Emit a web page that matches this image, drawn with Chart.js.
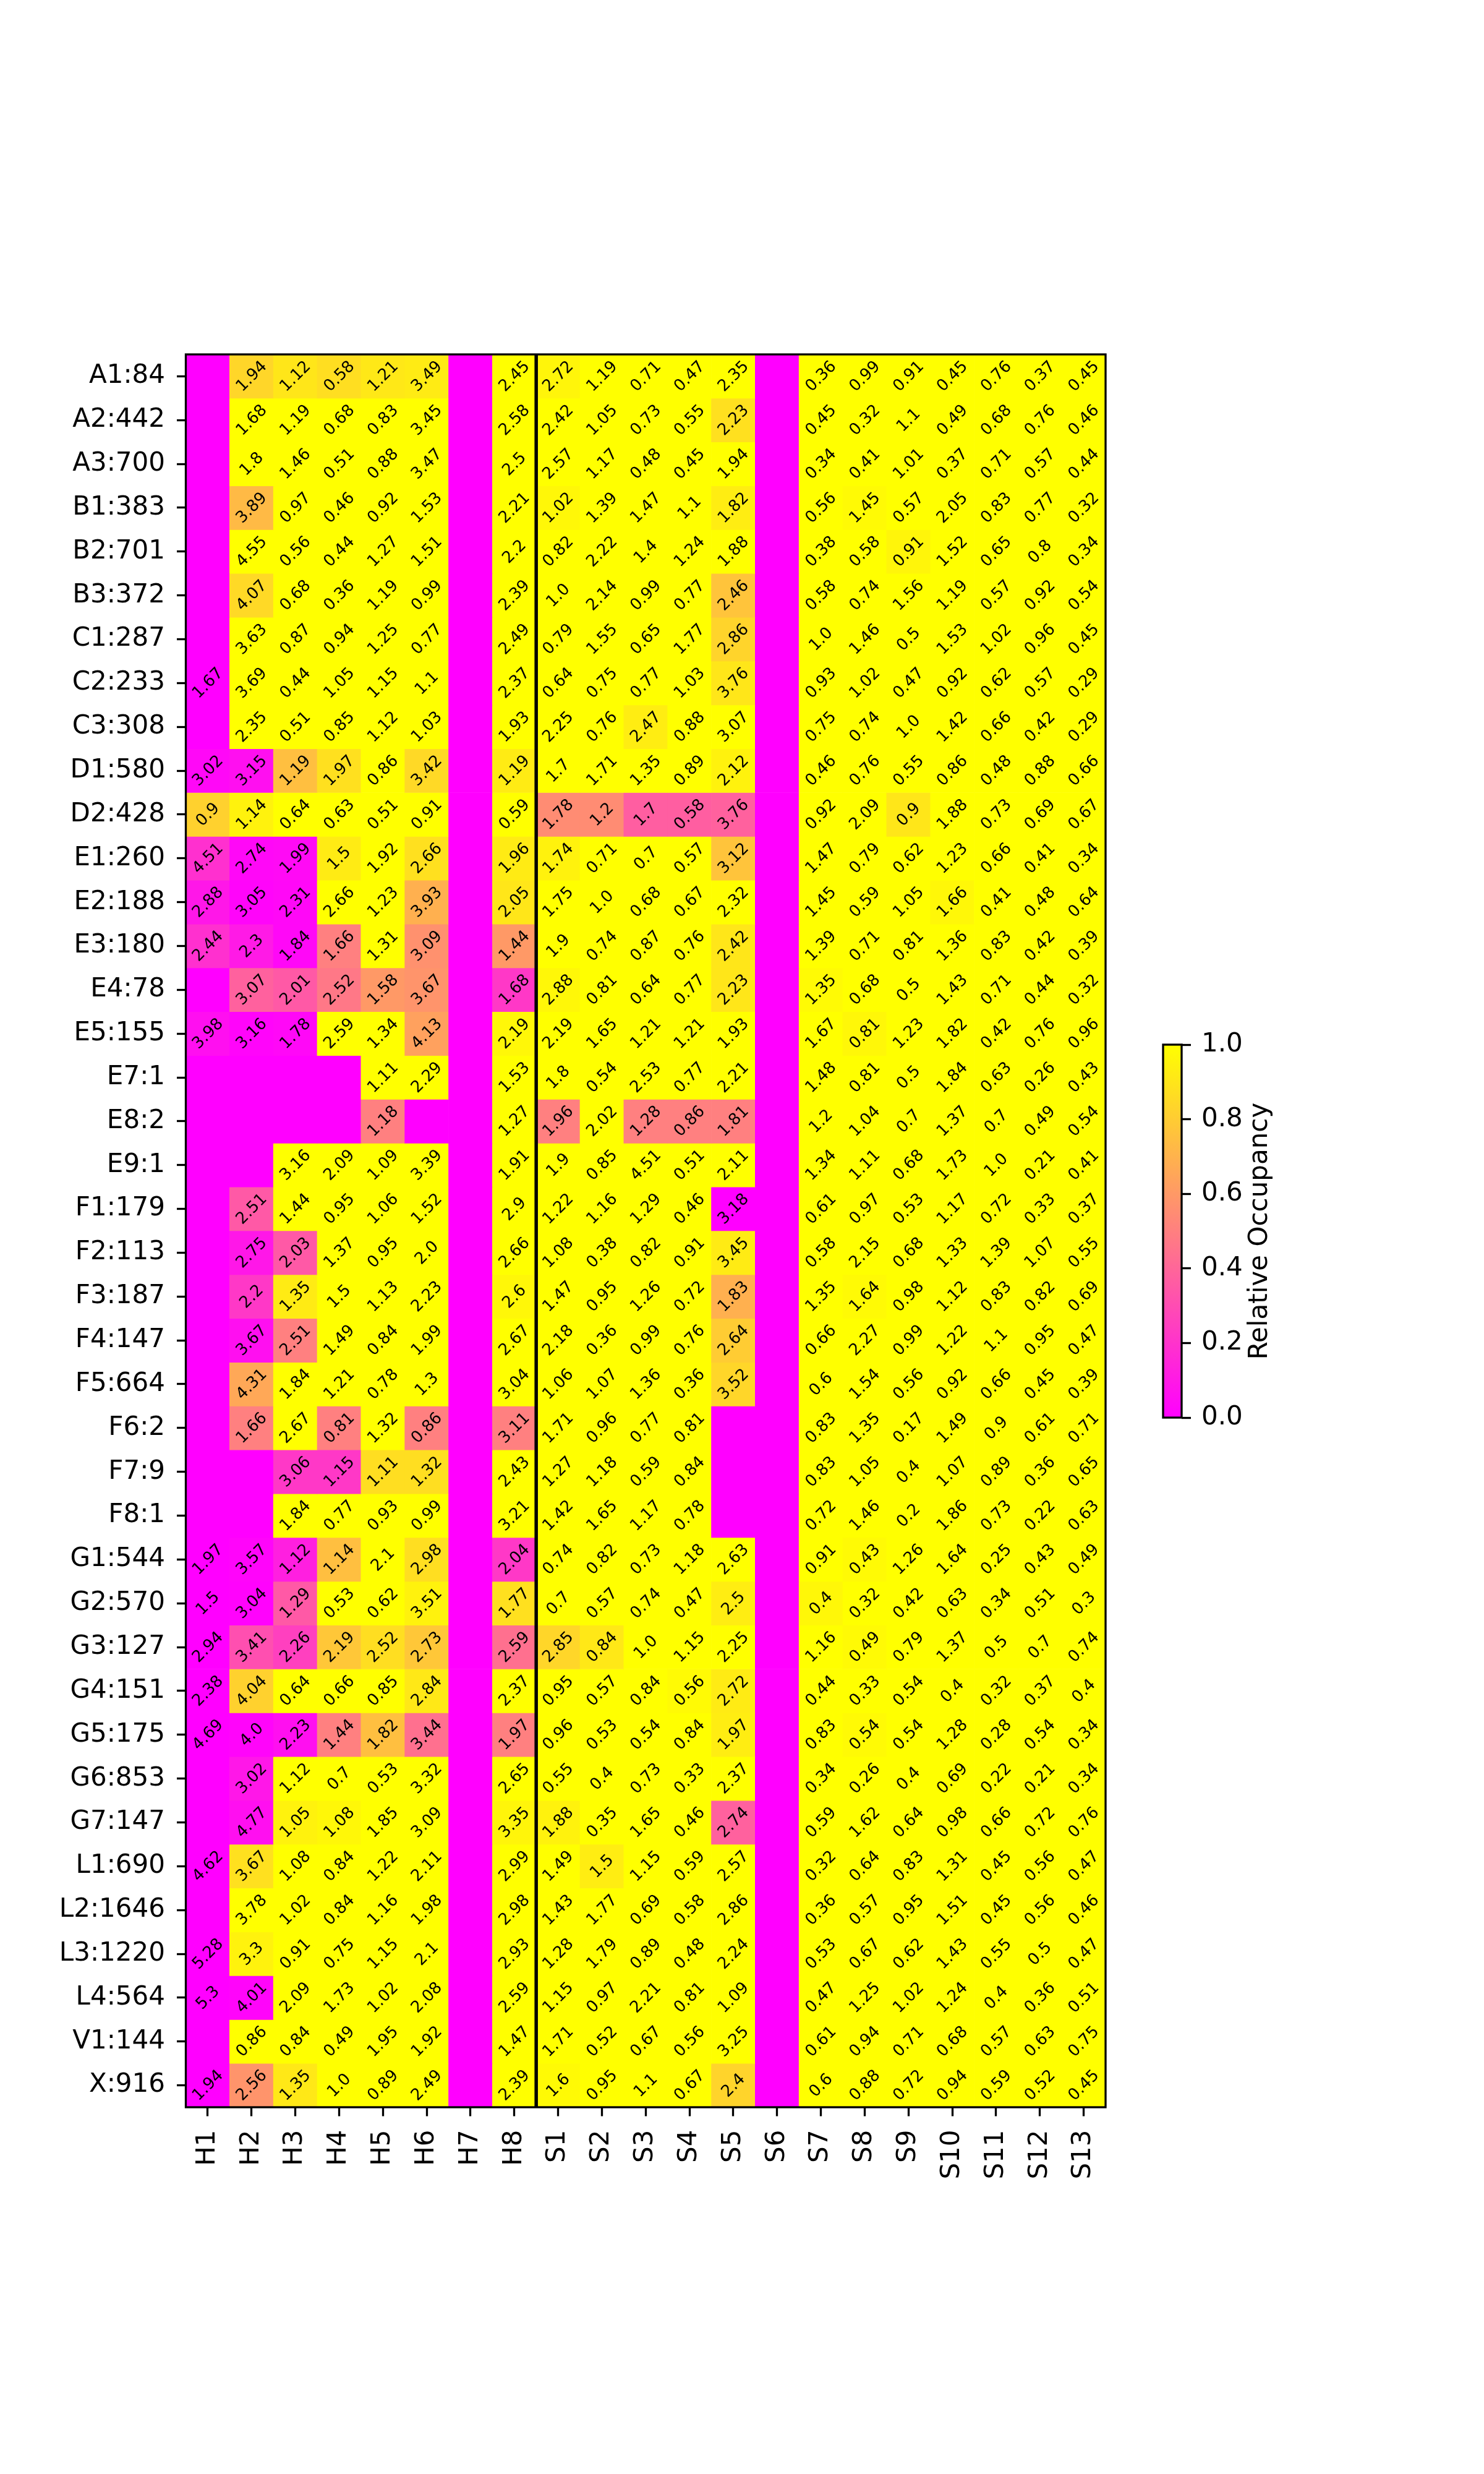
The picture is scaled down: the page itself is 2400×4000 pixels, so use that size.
<!DOCTYPE html>
<html><head><meta charset="utf-8">
<script src="https://cdn.jsdelivr.net/npm/chart.js@4/dist/chart.umd.min.js"></script>
<style>
html,body{margin:0;padding:0;background:#fff;}
#wrap{position:relative;width:2400px;height:4000px;background:#fff;}
#main{position:absolute;left:0;top:0;}
#cbar{position:absolute;left:1860px;top:1600px;}
</style></head><body>
<div id="wrap">
<canvas id="main" width="2400" height="4000"></canvas>
<canvas id="cbar" width="400" height="800"></canvas>
</div>
<script>
// ---- categories ----
const colLabels = ['H1','H2','H3','H4','H5','H6','H7','H8','S1','S2','S3','S4','S5','S6','S7','S8','S9','S10','S11','S12','S13'];
const rowLabels = ['A1:84','A2:442','A3:700','B1:383','B2:701','B3:372','C1:287','C2:233','C3:308','D1:580','D2:428','E1:260','E2:188','E3:180','E4:78','E5:155','E7:1','E8:2','E9:1','F1:179','F2:113','F3:187','F4:147','F5:664','F6:2','F7:9','F8:1','G1:544','G2:570','G3:127','G4:151','G5:175','G6:853','G7:147','L1:690','L2:1646','L3:1220','L4:564','V1:144','X:916'];
const separatorAfter = 'H8';
const colorbarTicks = [0.0, 0.2, 0.4, 0.6, 0.8, 1.0];
const colorbarLabel = 'Relative Occupancy';

// ---- cell annotation values per row (null = no label) ----
const val_A1 = [null,1.94,1.12,0.58,1.21,3.49,null,2.45,2.72,1.19,0.71,0.47,2.35,null,0.36,0.99,0.91,0.45,0.76,0.37,0.45];
const val_A2 = [null,1.68,1.19,0.68,0.83,3.45,null,2.58,2.42,1.05,0.73,0.55,2.23,null,0.45,0.32,1.1,0.49,0.68,0.76,0.46];
const val_A3 = [null,1.8,1.46,0.51,0.88,3.47,null,2.5,2.57,1.17,0.48,0.45,1.94,null,0.34,0.41,1.01,0.37,0.71,0.57,0.44];
const val_B1 = [null,3.89,0.97,0.46,0.92,1.53,null,2.21,1.02,1.39,1.47,1.1,1.82,null,0.56,1.45,0.57,2.05,0.83,0.77,0.32];
const val_B2 = [null,4.55,0.56,0.44,1.27,1.51,null,2.2,0.82,2.22,1.4,1.24,1.88,null,0.38,0.58,0.91,1.52,0.65,0.8,0.34];
const val_B3 = [null,4.07,0.68,0.36,1.19,0.99,null,2.39,1.0,2.14,0.99,0.77,2.46,null,0.58,0.74,1.56,1.19,0.57,0.92,0.54];
const val_C1 = [null,3.63,0.87,0.94,1.25,0.77,null,2.49,0.79,1.55,0.65,1.77,2.86,null,1.0,1.46,0.5,1.53,1.02,0.96,0.45];
const val_C2 = [1.67,3.69,0.44,1.05,1.15,1.1,null,2.37,0.64,0.75,0.77,1.03,3.76,null,0.93,1.02,0.47,0.92,0.62,0.57,0.29];
const val_C3 = [null,2.35,0.51,0.85,1.12,1.03,null,1.93,2.25,0.76,2.47,0.88,3.07,null,0.75,0.74,1.0,1.42,0.66,0.42,0.29];
const val_D1 = [3.02,3.15,1.19,1.97,0.86,3.42,null,1.19,1.7,1.71,1.35,0.89,2.12,null,0.46,0.76,0.55,0.86,0.48,0.88,0.66];
const val_D2 = [0.9,1.14,0.64,0.63,0.51,0.91,null,0.59,1.78,1.2,1.7,0.58,3.76,null,0.92,2.09,0.9,1.88,0.73,0.69,0.67];
const val_E1 = [4.51,2.74,1.99,1.5,1.92,2.66,null,1.96,1.74,0.71,0.7,0.57,3.12,null,1.47,0.79,0.62,1.23,0.66,0.41,0.34];
const val_E2 = [2.88,3.05,2.31,2.66,1.23,3.93,null,2.05,1.75,1.0,0.68,0.67,2.32,null,1.45,0.59,1.05,1.66,0.41,0.48,0.64];
const val_E3 = [2.44,2.3,1.84,1.66,1.31,3.09,null,1.44,1.9,0.74,0.87,0.76,2.42,null,1.39,0.71,0.81,1.36,0.83,0.42,0.39];
const val_E4 = [null,3.07,2.01,2.52,1.58,3.67,null,1.68,2.88,0.81,0.64,0.77,2.23,null,1.35,0.68,0.5,1.43,0.71,0.44,0.32];
const val_E5 = [3.98,3.16,1.78,2.59,1.34,4.13,null,2.19,2.19,1.65,1.21,1.21,1.93,null,1.67,0.81,1.23,1.82,0.42,0.76,0.96];
const val_E7 = [null,null,null,null,1.11,2.29,null,1.53,1.8,0.54,2.53,0.77,2.21,null,1.48,0.81,0.5,1.84,0.63,0.26,0.43];
const val_E8 = [null,null,null,null,1.18,null,null,1.27,1.96,2.02,1.28,0.86,1.81,null,1.2,1.04,0.7,1.37,0.7,0.49,0.54];
const val_E9 = [null,null,3.16,2.09,1.09,3.39,null,1.91,1.9,0.85,4.51,0.51,2.11,null,1.34,1.11,0.68,1.73,1.0,0.21,0.41];
const val_F1 = [null,2.51,1.44,0.95,1.06,1.52,null,2.9,1.22,1.16,1.29,0.46,3.18,null,0.61,0.97,0.53,1.17,0.72,0.33,0.37];
const val_F2 = [null,2.75,2.03,1.37,0.95,2.0,null,2.66,1.08,0.38,0.82,0.91,3.45,null,0.58,2.15,0.68,1.33,1.39,1.07,0.55];
const val_F3 = [null,2.2,1.35,1.5,1.13,2.23,null,2.6,1.47,0.95,1.26,0.72,1.83,null,1.35,1.64,0.98,1.12,0.83,0.82,0.69];
const val_F4 = [null,3.67,2.51,1.49,0.84,1.99,null,2.67,2.18,0.36,0.99,0.76,2.64,null,0.66,2.27,0.99,1.22,1.1,0.95,0.47];
const val_F5 = [null,4.31,1.84,1.21,0.78,1.3,null,3.04,1.06,1.07,1.36,0.36,3.52,null,0.6,1.54,0.56,0.92,0.66,0.45,0.39];
const val_F6 = [null,1.66,2.67,0.81,1.32,0.86,null,3.11,1.71,0.96,0.77,0.81,null,null,0.83,1.35,0.17,1.49,0.9,0.61,0.71];
const val_F7 = [null,null,3.06,1.15,1.11,1.32,null,2.43,1.27,1.18,0.59,0.84,null,null,0.83,1.05,0.4,1.07,0.89,0.36,0.65];
const val_F8 = [null,null,1.84,0.77,0.93,0.99,null,3.21,1.42,1.65,1.17,0.78,null,null,0.72,1.46,0.2,1.86,0.73,0.22,0.63];
const val_G1 = [1.97,3.57,1.12,1.14,2.1,2.98,null,2.04,0.74,0.82,0.73,1.18,2.63,null,0.91,0.43,1.26,1.64,0.25,0.43,0.49];
const val_G2 = [1.5,3.04,1.29,0.53,0.62,3.51,null,1.77,0.7,0.57,0.74,0.47,2.5,null,0.4,0.32,0.42,0.63,0.34,0.51,0.3];
const val_G3 = [2.94,3.41,2.26,2.19,2.52,2.73,null,2.59,2.85,0.84,1.0,1.15,2.25,null,1.16,0.49,0.79,1.37,0.5,0.7,0.74];
const val_G4 = [2.38,4.04,0.64,0.66,0.85,2.84,null,2.37,0.95,0.57,0.84,0.56,2.72,null,0.44,0.33,0.54,0.4,0.32,0.37,0.4];
const val_G5 = [4.69,4.0,2.23,1.44,1.82,3.44,null,1.97,0.96,0.53,0.54,0.84,1.97,null,0.83,0.54,0.54,1.28,0.28,0.54,0.34];
const val_G6 = [null,3.02,1.12,0.7,0.53,3.32,null,2.65,0.55,0.4,0.73,0.33,2.37,null,0.34,0.26,0.4,0.69,0.22,0.21,0.34];
const val_G7 = [null,4.77,1.05,1.08,1.85,3.09,null,3.35,1.88,0.35,1.65,0.46,2.74,null,0.59,1.62,0.64,0.98,0.66,0.72,0.76];
const val_L1 = [4.62,3.67,1.08,0.84,1.22,2.11,null,2.99,1.49,1.5,1.15,0.59,2.57,null,0.32,0.64,0.83,1.31,0.45,0.56,0.47];
const val_L2 = [null,3.78,1.02,0.84,1.16,1.98,null,2.98,1.43,1.77,0.69,0.58,2.86,null,0.36,0.57,0.95,1.51,0.45,0.56,0.46];
const val_L3 = [5.28,3.3,0.91,0.75,1.15,2.1,null,2.93,1.28,1.79,0.89,0.48,2.24,null,0.53,0.67,0.62,1.43,0.55,0.5,0.47];
const val_L4 = [5.3,4.01,2.09,1.73,1.02,2.08,null,2.59,1.15,0.97,2.21,0.81,1.09,null,0.47,1.25,1.02,1.24,0.4,0.36,0.51];
const val_V1 = [null,0.86,0.84,0.49,1.95,1.92,null,1.47,1.71,0.52,0.67,0.56,3.25,null,0.61,0.94,0.71,0.68,0.57,0.63,0.75];
const val_X  = [1.94,2.56,1.35,1.0,0.89,2.49,null,2.39,1.6,0.95,1.1,0.67,2.4,null,0.6,0.88,0.72,0.94,0.59,0.52,0.45];

// ---- relative occupancy (colour) per row, 0..1 ----
const occ_A1 = [0,.84,.9,.87,.91,.92,0,1,.96,1,1,1,1,0,1,1,1,1,1,1,1];
const occ_A2 = [0,1,1,1,1,1,0,1,1,1,1,1,.88,0,1,1,1,1,1,1,1];
const occ_A3 = [0,1,1,1,1,1,0,1,1,1,1,1,1,0,1,1,1,1,1,1,1];
const occ_B1 = [0,.73,1,1,1,1,0,1,.97,1,1,1,.93,0,1,.98,1,1,1,1,1];
const occ_B2 = [0,1,1,1,1,1,0,1,1,1,1,1,1,0,1,1,.96,1,1,1,1];
const occ_B3 = [0,.85,1,1,1,1,0,1,1,1,1,1,.77,0,1,1,1,1,1,1,1];
const occ_C1 = [0,1,1,1,1,1,0,1,1,1,1,1,.83,0,1,1,1,1,1,1,1];
const occ_C2 = [0,1,1,1,1,1,0,1,1,1,1,1,.9,0,1,1,1,1,1,1,1];
const occ_C3 = [0,1,1,1,1,1,0,1,1,1,.93,1,1,0,1,1,1,1,1,1,1];
const occ_D1 = [.03,.06,.75,.88,1,.85,0,.92,1,1,1,1,.95,0,1,1,1,1,1,1,1];
const occ_D2 = [.82,.95,1,1,1,1,0,1,.55,.55,.37,.37,.38,0,1,1,.9,1,1,1,1];
const occ_E1 = [.19,.03,.04,.92,1,.88,0,.92,.95,1,1,1,.77,0,1,1,1,1,1,1,1];
const occ_E2 = [.09,.02,.03,1,1,.69,0,.9,1,1,1,1,1,0,1,1,1,.97,1,1,1];
const occ_E3 = [.19,.1,.03,.5,1,.57,0,.6,1,1,1,1,.9,0,1,1,1,1,1,1,1];
const occ_E4 = [0,.38,.35,.47,.6,.58,0,.22,.97,1,1,1,.9,0,.98,1,1,1,1,1,1];
const occ_E5 = [.06,.02,.03,1,1,.63,0,.97,1,1,1,1,1,0,1,.97,1,1,1,1,1];
const occ_E7 = [0,0,0,0,1,1,0,1,1,1,1,1,1,0,1,1,1,1,1,1,1];
const occ_E8 = [0,0,0,0,.5,0,0,1,.5,1,.5,.5,.5,0,1,1,1,1,1,1,1];
const occ_E9 = [0,0,1,1,1,1,0,1,1,1,1,1,1,0,1,1,1,1,1,1,1];
const occ_F1 = [0,.35,1,1,1,1,0,1,1,1,1,1,0,0,1,1,1,1,1,1,1];
const occ_F2 = [0,.09,.35,1,1,1,0,1,1,1,1,1,.92,0,1,1,1,1,1,1,1];
const occ_F3 = [0,.22,.92,1,1,1,0,.97,1,1,1,1,.69,0,1,.98,1,1,1,1,1];
const occ_F4 = [0,.06,.5,1,1,1,0,1,1,1,1,1,.8,0,1,1,1,1,1,1,1];
const occ_F5 = [0,.66,1,1,1,1,0,1,1,1,1,1,.84,0,1,1,1,1,1,1,1];
const occ_F6 = [0,.5,1,.5,1,.5,0,.5,1,1,1,1,0,0,1,1,1,1,1,1,1];
const occ_F7 = [0,0,.22,.22,.87,.87,0,1,1,1,1,1,0,0,1,1,1,1,1,1,1];
const occ_F8 = [0,0,1,1,1,1,0,1,1,1,1,1,0,0,1,1,1,1,1,1,1];
const occ_G1 = [0,.02,.12,.75,1,.87,0,.22,1,1,1,1,1,0,1,.98,1,1,1,1,1];
const occ_G2 = [0,.01,.35,1,1,.95,0,.88,1,1,1,1,.93,0,.97,1,1,1,1,1,1];
const occ_G3 = [0,.31,.25,.78,.87,.78,0,.44,.84,.91,1,1,1,0,1,.98,1,1,1,1,1];
const occ_G4 = [0,.82,1,1,1,.91,0,1,1,1,1,.98,.92,0,1,1,1,1,1,1,1];
const occ_G5 = [0,.02,.06,.5,.75,.44,0,.5,1,1,1,1,.93,0,1,.98,1,1,1,1,1];
const occ_G6 = [0,.09,1,1,1,1,0,1,1,1,1,1,1,0,1,1,1,1,1,1,1];
const occ_G7 = [0,.06,.95,.97,1,1,0,.96,.95,1,1,1,.38,0,1,1,1,1,1,1,1];
const occ_L1 = [0,.88,1,1,1,1,0,1,1,.93,1,1,1,0,1,1,1,1,1,1,1];
const occ_L2 = [0,1,1,1,1,1,0,1,1,1,1,1,1,0,1,1,1,1,1,1,1];
const occ_L3 = [0,.95,1,1,1,1,0,1,1,1,1,1,1,0,1,1,1,1,1,1,1];
const occ_L4 = [0,.02,1,1,1,1,0,1,1,1,1,1,1,0,1,1,1,1,1,1,1];
const occ_V1 = [0,1,1,1,1,1,0,1,1,1,1,1,1,0,1,1,1,1,1,1,1];
const occ_X  = [0,.58,.91,1,1,1,0,1,.98,1,1,1,.83,0,1,1,1,1,1,1,1];

const valueRows = [val_A1,val_A2,val_A3,val_B1,val_B2,val_B3,val_C1,val_C2,val_C3,val_D1,val_D2,val_E1,val_E2,val_E3,val_E4,val_E5,val_E7,val_E8,val_E9,val_F1,val_F2,val_F3,val_F4,val_F5,val_F6,val_F7,val_F8,val_G1,val_G2,val_G3,val_G4,val_G5,val_G6,val_G7,val_L1,val_L2,val_L3,val_L4,val_V1,val_X];
const occRows = [occ_A1,occ_A2,occ_A3,occ_B1,occ_B2,occ_B3,occ_C1,occ_C2,occ_C3,occ_D1,occ_D2,occ_E1,occ_E2,occ_E3,occ_E4,occ_E5,occ_E7,occ_E8,occ_E9,occ_F1,occ_F2,occ_F3,occ_F4,occ_F5,occ_F6,occ_F7,occ_F8,occ_G1,occ_G2,occ_G3,occ_G4,occ_G5,occ_G6,occ_G7,occ_L1,occ_L2,occ_L3,occ_L4,occ_V1,occ_X];

// ---- helpers ----
function spring(v) { return 'rgb(255,' + Math.round(255 * v) + ',' + Math.round(255 * (1 - v)) + ')'; }
function fmt(v) { return Number.isInteger(v) ? v.toFixed(1) : String(v); }

Chart.defaults.font.family = '"DejaVu Sans", sans-serif';
Chart.defaults.color = '#000';

const FONT = {family: '"DejaVu Sans", sans-serif', size: 42};
const TICK_LEN = 14.5, TICK_W = 3.3;

const datasets = rowLabels.map((lab, r) => ({
  label: lab,
  data: colLabels.map(() => [r - 0.5, r + 0.5]),
  backgroundColor: occRows[r].map(spring),
  borderWidth: 0,
  grouped: false,
  categoryPercentage: 1,
  barPercentage: 1
}));

const cellText = {
  id: 'cellText',
  afterDatasetsDraw(chart) {
    const {ctx, scales: {x, y}} = chart;
    ctx.save();
    ctx.font = '26px "DejaVu Sans", sans-serif';
    ctx.fillStyle = '#000';
    ctx.textAlign = 'center';
    ctx.textBaseline = 'middle';
    valueRows.forEach((row, r) => row.forEach((v, c) => {
      if (v === null) return;
      const px = x.getPixelForValue(c), py = y.getPixelForValue(r);
      ctx.save();
      ctx.translate(px, py);
      ctx.rotate(-Math.PI / 4);
      ctx.fillText(fmt(v), 0, 1);
      ctx.restore();
    }));
    ctx.restore();
  }
};

const frame = {
  id: 'frame',
  afterDraw(chart) {
    const {ctx, chartArea: a, scales: {x}} = chart;
    ctx.save();
    ctx.strokeStyle = '#000';
    ctx.lineWidth = TICK_W;
    ctx.strokeRect(a.left, a.top, a.right - a.left, a.bottom - a.top);
    const i = colLabels.indexOf(separatorAfter);
    const sx = (x.getPixelForValue(i) + x.getPixelForValue(i + 1)) / 2;
    ctx.lineWidth = 5.5;
    ctx.beginPath();
    ctx.moveTo(sx, a.top);
    ctx.lineTo(sx, a.bottom);
    ctx.stroke();
    ctx.restore();
  }
};

new Chart(document.getElementById('main'), {
  type: 'bar',
  data: {labels: colLabels, datasets},
  options: {
    responsive: false,
    animation: false,
    devicePixelRatio: 1,
    layout: {padding: {left: 0, top: 573, right: 612, bottom: 393}},
    plugins: {legend: {display: false}, tooltip: {enabled: false}},
    scales: {
      x: {
        type: 'category',
        offset: true,
        grid: {display: true, drawOnChartArea: false, drawTicks: true, tickLength: TICK_LEN, tickWidth: TICK_W, tickColor: '#000', offset: false},
        border: {display: false},
        ticks: {autoSkip: false, minRotation: 90, maxRotation: 90, padding: 22, color: '#000', font: FONT},
        afterFit: s => { s.height = 200; }
      },
      y: {
        type: 'linear',
        min: -0.5,
        max: rowLabels.length - 0.5,
        reverse: true,
        afterBuildTicks: s => { s.ticks = rowLabels.map((_, i) => ({value: i})); },
        grid: {display: true, drawOnChartArea: false, drawTicks: true, tickLength: TICK_LEN, tickWidth: TICK_W, tickColor: '#000'},
        border: {display: false},
        ticks: {autoSkip: false, padding: 19, color: '#000', font: FONT, callback: v => rowLabels[v]},
        afterFit: s => { s.width = 300.5; }
      }
    }
  },
  plugins: [cellText, frame]
});

// ---- colour bar ----
const cbFrame = {
  id: 'cbFrame',
  afterDraw(chart) {
    const {ctx, chartArea: a} = chart;
    ctx.save();
    ctx.strokeStyle = '#000';
    ctx.lineWidth = TICK_W;
    ctx.strokeRect(a.left, a.top, a.right - a.left, a.bottom - a.top);
    ctx.fillStyle = '#000';
    ctx.font = '42px "DejaVu Sans", sans-serif';
    ctx.textAlign = 'center';
    ctx.textBaseline = 'middle';
    ctx.translate(a.right + 127, (a.top + a.bottom) / 2);
    ctx.rotate(-Math.PI / 2);
    ctx.fillText(colorbarLabel, 0, 0);
    ctx.restore();
  }
};

new Chart(document.getElementById('cbar'), {
  type: 'bar',
  data: {
    labels: [''],
    datasets: [{
      data: [[colorbarTicks[0], colorbarTicks[colorbarTicks.length - 1]]],
      backgroundColor: (c) => {
        const a = c.chart.chartArea;
        if (!a) return spring(1);
        const g = c.chart.ctx.createLinearGradient(0, a.bottom, 0, a.top);
        g.addColorStop(0, spring(0));
        g.addColorStop(1, spring(1));
        return g;
      },
      borderWidth: 0,
      categoryPercentage: 1,
      barPercentage: 1
    }]
  },
  options: {
    responsive: false,
    animation: false,
    devicePixelRatio: 1,
    layout: {padding: {left: 21, top: 89, right: 0, bottom: 108}},
    plugins: {legend: {display: false}, tooltip: {enabled: false}},
    scales: {
      x: {display: false},
      y: {
        position: 'right',
        min: colorbarTicks[0],
        max: colorbarTicks[colorbarTicks.length - 1],
        afterBuildTicks: s => { s.ticks = colorbarTicks.map(v => ({value: v})); },
        grid: {display: true, drawOnChartArea: false, drawTicks: true, tickLength: 15, tickWidth: TICK_W, tickColor: '#000'},
        border: {display: false},
        ticks: {padding: 17, color: '#000', font: FONT, callback: v => Number(v).toFixed(1)},
        afterFit: s => { s.width = 349; }
      }
    }
  },
  plugins: [cbFrame]
});
</script>
</body></html>
